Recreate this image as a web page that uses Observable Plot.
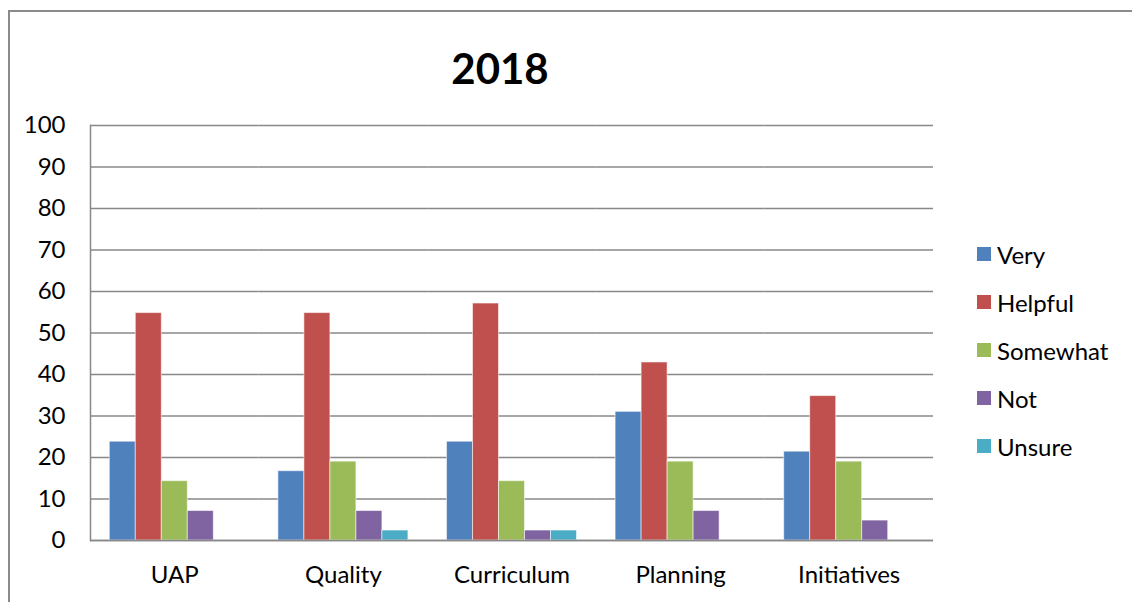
<!DOCTYPE html>
<html>
<head>
<meta charset="utf-8">
<script src="https://cdn.jsdelivr.net/npm/d3@7"></script>
<script src="https://cdn.jsdelivr.net/npm/@observablehq/plot@0.6"></script>
<style>
  html, body { margin: 0; padding: 0; background: #fff; }
  #wrap { position: relative; width: 1132px; height: 602px; overflow: hidden; font-family: Lato, "Open Sans", sans-serif; }
  #border { position: absolute; left: 8px; top: 10px; width: 1200px; height: 700px; border-left: 2px solid #8a8a8a; border-top: 2px solid #8a8a8a; }
  #title { position: absolute; left: 0; width: 1000px; top: 44px; text-align: center; font-size: 42px; font-weight: 700; color: #000; line-height: 48px; }
  #chart { position: absolute; left: 0; top: 0; }
  #legend { position: absolute; left: 977px; top: 230px; font-size: 24px; color: #000; }
  .item { display: flex; align-items: center; height: 48px; }
  .sw { width: 14px; height: 14px; margin-right: 6px; }
</style>
</head>
<body>
<div id="wrap">
  <div id="border"></div>
  <div id="chart"></div>
  <div id="title"></div>
  <div id="legend"></div>
</div>
<script>
const title = "2018";
const categories = ["UAP", "Quality", "Curriculum", "Planning", "Initiatives"];
const series = ["Very", "Helpful", "Somewhat", "Not", "Unsure"];
const colors = ["#4F81BD", "#C0504D", "#9BBB59", "#8064A2", "#4BACC6"];
const veryValues     = [23.8, 16.7, 23.8, 31.0, 21.4];
const helpfulValues  = [54.8, 54.8, 57.1, 42.9, 34.8];
const somewhatValues = [14.3, 19.0, 14.3, 19.0, 19.0];
const notValues      = [7.1, 7.1, 2.4, 7.1, 4.8];
const unsureValues   = [0, 2.4, 2.4, 0, 0];
const yTicks = [0, 10, 20, 30, 40, 50, 60, 70, 80, 90, 100];

const valuesBySeries = [veryValues, helpfulValues, somewhatValues, notValues, unsureValues];
const data = [];
categories.forEach((c, i) => {
  series.forEach((s, j) => {
    data.push({category: c, series: s, value: valuesBySeries[j][i]});
  });
});

document.getElementById("title").textContent = title;

const chart = Plot.plot({
  width: 1132,
  height: 602,
  marginLeft: 90,
  marginRight: 199,
  marginTop: 125,
  marginBottom: 62,
  style: {fontFamily: "Lato, 'Open Sans', sans-serif", fontSize: "24px", color: "#000", background: "transparent"},
  fx: {domain: categories, padding: 0, round: false, label: null},
  x: {domain: series, paddingInner: 0, paddingOuter: 0.742, round: false, axis: null},
  y: {domain: [0, 100], label: null},
  color: {domain: series, range: colors},
  marks: [
    Plot.gridY(yTicks, {stroke: "#888888", strokeOpacity: 1, strokeWidth: 1.5}),
    Plot.axisY(yTicks, {tickSize: 0, tickPadding: 25, fontSize: 24, fill: "#000", label: null}),
    Plot.axisFx({anchor: "bottom", tickSize: 0, tickPadding: 25, fontSize: 24, fill: "#000", label: null}),
    Plot.barY(data, {fx: "category", x: "series", y: "value", fill: "series", stroke: "#ffffff", strokeOpacity: 0.55, strokeWidth: 1}),
    Plot.ruleY([0], {stroke: "#888888", strokeWidth: 1.5}),
    Plot.frame({anchor: "left", facetAnchor: "left", stroke: "#888888", strokeWidth: 1.5})
  ]
});
document.getElementById("chart").appendChild(chart);

const legend = document.getElementById("legend");
series.forEach((s, i) => {
  const item = document.createElement("div");
  item.className = "item";
  const sw = document.createElement("div");
  sw.className = "sw";
  sw.style.background = colors[i];
  const label = document.createElement("span");
  label.textContent = s;
  item.appendChild(sw);
  item.appendChild(label);
  legend.appendChild(item);
});
</script>
</body>
</html>
